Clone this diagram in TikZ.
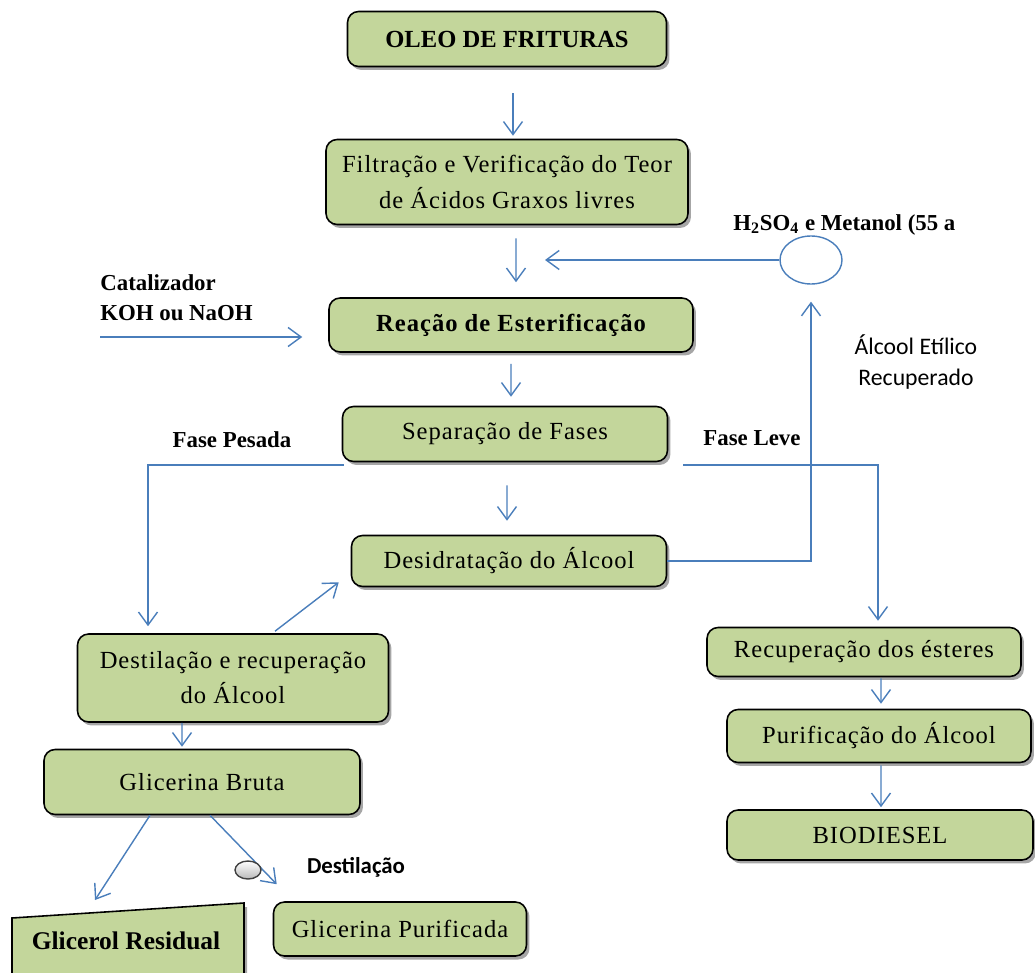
\documentclass[tikz,border=0pt]{standalone}
\usepackage{fontspec}
\setmainfont{Liberation Serif}
\newfontfamily\calib{Carlito}
\usetikzlibrary{arrows.meta,shapes.geometric,shadows}
\definecolor{boxgreen}{HTML}{C3D69B}
\definecolor{flowblue}{HTML}{4A7EBB}
\begin{document}
\begin{tikzpicture}[x=0.02cm,y=-0.02cm,
  font=\fontsize{14}{20}\selectfont\addfontfeature{LetterSpace=4},
  etapa/.style={draw=black,line width=0.9pt,fill=boxgreen,rounded corners=0.22cm,
    inner sep=0pt,align=center,
    drop shadow={shadow xshift=0.06cm,shadow yshift=-0.07cm,fill=black,opacity=0.35}},
  negrito/.style={font=\fontsize{14}{20}\selectfont\bfseries},
  flow/.style={draw=flowblue,line width=0.8pt,-{Straight Barb[length=2.6mm,width=3.8mm]}},
  rotulo/.style={font=\fontsize{13}{17}\selectfont\bfseries,inner sep=0pt}]
  \useasboundingbox (0,0) rectangle (1035,973);
  \clip (0,0) rectangle (1035,973);

  % etapas principais
  \node[etapa,negrito,minimum width=6.38cm,minimum height=1.1cm]
    (oleo) at (507,39) {OLEO DE FRITURAS};
  \node[etapa,minimum width=7.24cm,minimum height=1.7cm]
    (filtro) at (507,182) {Filtração e Verificação do Teor\\de Ácidos Graxos livres};
  \node[etapa,negrito,minimum width=7.28cm,minimum height=1.08cm]
    (reacao) at (511,325) {\addfontfeature{LetterSpace=4}Reação de Esterificação};
  \node[etapa,minimum width=6.5cm,minimum height=1.1cm]
    (separa) at (505,434) {Separação de Fases};
  \node[etapa,minimum width=6.3cm,minimum height=1.02cm]
    (desid) at (509,561) {Desidratação do Álcool};
  \node[etapa,minimum width=6.22cm,minimum height=1.76cm]
    (destila) at (233,678) {Destilação e recuperação\\do Álcool};
  \node[etapa,minimum width=6.32cm,minimum height=1.3cm]
    (bruta) at (202,782) {Glicerina Bruta};
  \node[etapa,minimum width=5.06cm,minimum height=1.08cm]
    (purif) at (400,929) {Glicerina Purificada};
  \node[etapa,minimum width=6.28cm,minimum height=0.98cm]
    (esteres) at (864,652) {Recuperação dos ésteres};
  \node[etapa,minimum width=6.08cm,minimum height=1.06cm]
    (alcool) at (879,736) {Purificação do Álcool};
  \node[etapa,minimum width=6.12cm,minimum height=1.0cm]
    (biodiesel) at (880,835) {BIODIESEL};

  % glicerol residual (cortado pela margem)
  \fill[black,opacity=0.35] (15,922) -- (247,907) -- (247,1000) -- (15,1000) -- cycle;
  \draw[line width=0.9pt,fill=boxgreen] (12,918) -- (244,903) -- (244,1000) -- (12,1000) -- cycle;
  \node[font=\fontsize{14.5}{17}\selectfont\bfseries] (residual) at (126,941) {Glicerol Residual};

  % misturador e rotulos
  \node[draw=flowblue,line width=0.8pt,ellipse,minimum width=1.24cm,minimum height=0.96cm]
    (mix) at (811,260) {};
  \node[rotulo,anchor=west] (acido) at (733,225) {H\textsubscript{2}SO\textsubscript{4} e Metanol (55 a};
  \node[rotulo,anchor=west,align=left] (catal) at (100,298) {Catalizador\\KOH ou NaOH};
  \node[font=\calib\fontsize{13.5}{18}\selectfont,align=center] (etilico) at (916,362)
    {Álcool Etílico\\Recuperado};
  \node[rotulo] (pesada) at (232,440) {Fase Pesada};
  \node[rotulo] (leve) at (752,438) {Fase Leve};
  \node[font=\calib\bfseries\fontsize{13}{15}\selectfont] (destlab) at (356,867) {Destilação};

  \coordinate (mixin) at (545,260);
  \coordinate (catin) at (100,337);
  \coordinate (ladoesq) at (148,465);
  \coordinate (ladodir) at (878,465);
  \coordinate (resin) at (95,900);

  % conexoes
  \draw[flow,shorten <=0.52cm,shorten >=0.06cm] ([xshift=0.12cm]oleo.south) -- ([xshift=0.12cm]filtro.north);
  \draw[flow,shorten <=0.26cm,shorten >=0.3cm] ([xshift=0.18cm]filtro.south) -- ([xshift=0.1cm]reacao.north);
  \draw[flow] (mix) -- (mixin);
  \draw[flow,shorten >=0.52cm] (catin) -- (catin -| reacao.west);
  \draw[flow,shorten <=0.22cm,shorten >=0.18cm] (reacao.south) -- ([xshift=0.12cm]separa.north);
  \draw[flow,shorten <=0.46cm,shorten >=0.28cm] ([xshift=0.04cm]separa.south) -- ([xshift=-0.04cm]desid.north);
  \draw[flow,shorten >=0.14cm] ([xshift=0.04cm]separa.south west |- ladoesq) -- (ladoesq) -- (ladoesq |- destila.north);
  \draw[flow,shorten <=0.3cm,shorten >=0.12cm] (separa.south east |- ladodir) -- (ladodir) -- (ladodir |- esteres.north);
  \draw[flow,shorten >=0.34cm] (desid.east) -| (mix.south);
  \draw[flow] ([xshift=0.84cm,yshift=0.04cm]destila.north) -- ([xshift=-0.24cm,yshift=0.1cm]desid.south west);
  \draw[flow,shorten >=0.04cm] ([xshift=-1.02cm]destila.south) -- ([xshift=-0.4cm]bruta.north);
  \draw[flow] ([xshift=-1.04cm]bruta.south) -- (resin);
  \draw[flow] ([xshift=0.16cm]bruta.south) -- ([xshift=0.08cm,yshift=0.34cm]purif.north west);
  \draw[flow,shorten <=0.02cm] ([xshift=0.34cm]esteres.south) -- ([xshift=0.04cm,yshift=0.1cm]alcool.north);
  \draw[flow,shorten <=0.04cm,shorten >=0.04cm] ([xshift=0.04cm]alcool.south) -- ([xshift=0.02cm]biodiesel.north);

  % valvula da destilacao
  \node[draw=black!75,line width=0.8pt,ellipse,top color=white,bottom color=gray!55,
    minimum width=0.52cm,minimum height=0.36cm,inner sep=0pt] (valv) at (248,870) {};
\end{tikzpicture}
\end{document}
